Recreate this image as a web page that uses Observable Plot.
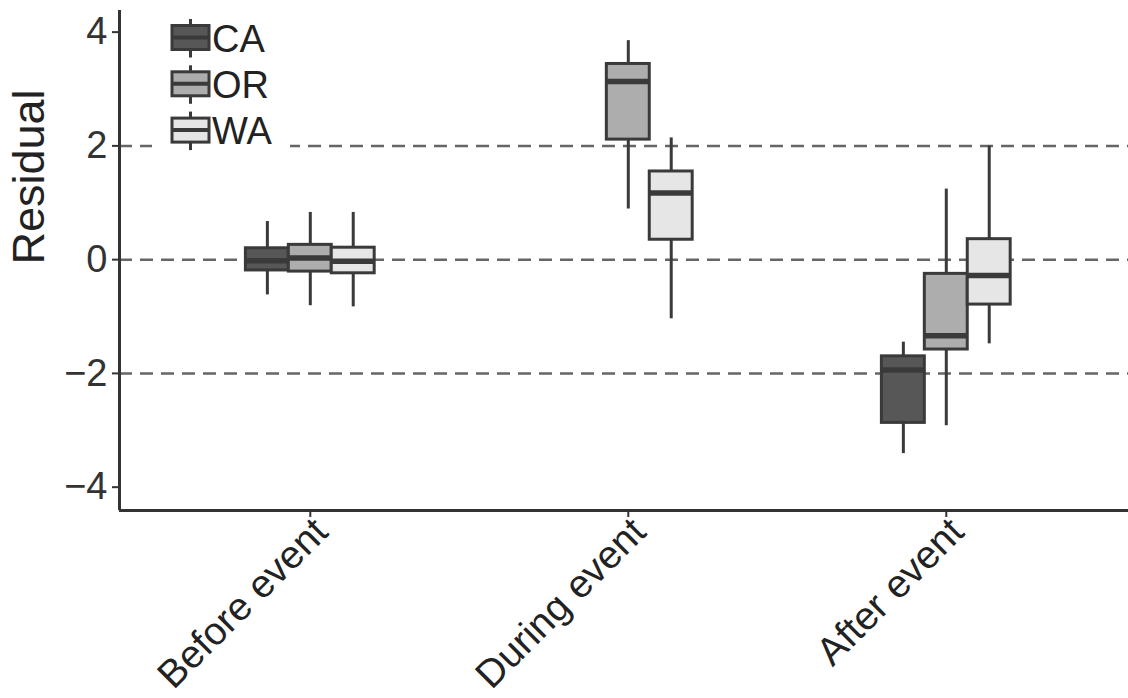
<!DOCTYPE html>
<html>
<head>
<meta charset="utf-8">
<script src="https://cdn.jsdelivr.net/npm/d3@7"></script>
<script src="https://cdn.jsdelivr.net/npm/@observablehq/plot@0.6"></script>
<style>
  html, body { margin: 0; padding: 0; background: #fff; overflow: hidden; }
  #chart { position: relative; width: 1128px; height: 698px; }
  #chart svg { position: absolute; left: 0; top: 0; }
</style>
</head>
<body>
<div id="chart"></div>
<script>
// Periods relative to the event, and the three states
const periods = ["Before event", "During event", "After event"];
const states = ["CA", "OR", "WA"];
const fills = ["#575757", "#adadad", "#e6e6e6"];
const yTicks = [-4, -2, 0, 2, 4];
const guideLines = [-2, 0, 2];

// Box summaries per period: [lower whisker, Q1, median, Q3, upper whisker]
const caStats = [[-0.62, -0.19, -0.02, 0.20, 0.67], null, [-3.41, -2.87, -1.94, -1.70, -1.45]];
const orStats = [[-0.81, -0.21, 0.03, 0.26, 0.83], [0.89, 2.11, 3.13, 3.44, 3.85], [-2.92, -1.58, -1.34, -0.25, 1.24]];
const waStats = [[-0.83, -0.24, -0.03, 0.21, 0.83], [-1.04, 0.35, 1.17, 1.55, 2.14], [-1.48, -0.79, -0.28, 0.36, 2.00]];

const FONT = "'Liberation Sans', Arial, Helvetica, sans-serif";
const INK = "#3a3a3a";
const boxW = 0.135;          // width of one dodged box, in period units
const yMin = -4.41, yMax = 4.38;
const xMin = -0.6, xMax = 2.573;

// Long table: one row per (period, state) box
const rows = [];
[caStats, orStats, waStats].forEach((stats, s) => {
  stats.forEach((v, p) => {
    if (!v) return;
    const xc = p + (s - 1) * boxW;
    rows.push({
      state: states[s], period: periods[p], xc,
      x1: xc - boxW / 2, x2: xc + boxW / 2,
      lo: v[0], q1: v[1], med: v[2], q3: v[3], hi: v[4]
    });
  });
});

const chart = Plot.plot({
  width: 1128,
  height: 698,
  marginLeft: 119,
  marginRight: 0,
  marginTop: 10,
  marginBottom: 188,
  style: { fontFamily: FONT, background: "#fff", color: "#333", overflow: "visible" },
  x: { domain: [xMin, xMax], axis: null },
  y: { domain: [yMin, yMax], axis: null },
  color: { domain: states, range: fills },
  marks: [
    Plot.ruleY(guideLines, { stroke: "#666", strokeWidth: 2.5, strokeDasharray: "13,8" }),
    Plot.ruleX(rows, { x: "xc", y1: "lo", y2: "hi", stroke: INK, strokeWidth: 3 }),
    Plot.rect(rows, { x1: "x1", x2: "x2", y1: "q1", y2: "q3", fill: "state", stroke: INK, strokeWidth: 3 }),
    Plot.ruleY(rows, { y: "med", x1: "x1", x2: "x2", stroke: INK, strokeWidth: 5.5 }),
    Plot.ruleX([xMin], { stroke: "#333", strokeWidth: 3 }),
    Plot.ruleY([yMin], { stroke: "#333", strokeWidth: 3 }),
    Plot.axisY({ ticks: yTicks, tickSize: 7, tickPadding: 5, fontSize: 38, label: null, stroke: "#333", strokeWidth: 2 }),
    // x ticks only; the period names are set as rotated text below
    Plot.axisX({ ticks: [0, 1, 2], tickFormat: () => "", tickSize: 7, label: null, stroke: "#333", strokeWidth: 2 }),
    Plot.text(periods, { x: (d, i) => i, y: () => yMin, rotate: -45, textAnchor: "end", lineAnchor: "top",
                         dx: 0, dy: 4, fontSize: 39, fill: "#222" }),
    Plot.text(["Residual"], { frameAnchor: "left", rotate: -90, dx: -90, dy: 4, fontSize: 45, fill: "#222" })
  ]
});
document.getElementById("chart").appendChild(chart);

// Legend drawn inside the panel, top-left
const legend = d3.select("#chart").append("svg")
  .attr("width", 1128).attr("height", 698)
  .style("pointer-events", "none");
legend.append("rect")
  .attr("x", 152).attr("y", 12).attr("width", 138).attr("height", 140)
  .attr("fill", "#fff");
states.forEach((s, i) => {
  const cy = 37.5 + i * 46.3;
  const g = legend.append("g");
  g.append("line").attr("x1", 190.5).attr("x2", 190.5).attr("y1", cy - 18.5).attr("y2", cy + 20)
    .attr("stroke", INK).attr("stroke-width", 3);
  g.append("rect").attr("x", 172).attr("y", cy - 12).attr("width", 37).attr("height", 24)
    .attr("fill", fills[i]).attr("stroke", INK).attr("stroke-width", 3);
  g.append("line").attr("x1", 172).attr("x2", 209).attr("y1", cy).attr("y2", cy)
    .attr("stroke", INK).attr("stroke-width", 4);
  g.append("text").attr("x", 212).attr("y", cy + 14)
    .attr("font-family", FONT).attr("font-size", 38).attr("fill", "#222").text(s);
});
</script>
</body>
</html>
